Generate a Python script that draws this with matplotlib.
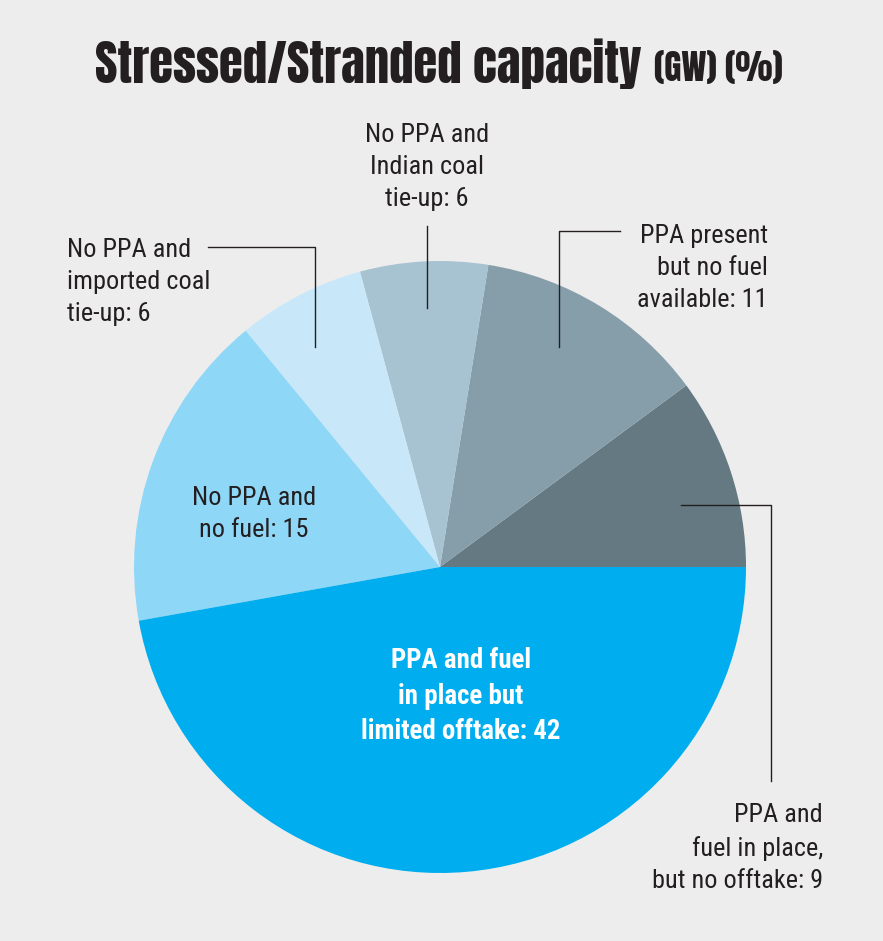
import matplotlib
matplotlib.use("Agg")
import matplotlib.pyplot as plt
from matplotlib import font_manager

# Stressed/stranded capacity shares, counter-clockwise from 3 o'clock
labels = [
    "PPA and\nfuel in place,\nbut no offtake: 9",
    "PPA present\nbut no fuel\navailable: 11",
    "No PPA and\nIndian coal\ntie-up: 6",
    "No PPA and\nimported coal\ntie-up: 6",
    "No PPA and\nno fuel: 15",
    "PPA and fuel\nin place but\nlimited offtake: 42",
]
values = [9, 11, 6, 6, 15, 42]
colors = ["#647981", "#869eaa", "#a7c3d1", "#c8e8fa", "#8fd7f7", "#00aeef"]

title_main = "Stressed/Stranded capacity"
title_unit = "(GW) (%)"

W, H = 883, 941
BG = "#eeeded"
INK = "#231f20"


def pick_font(names):
    for n in names:
        try:
            font_manager.findfont(font_manager.FontProperties(family=n),
                                  fallback_to_default=False)
            return n
        except ValueError:
            continue
    return "DejaVu Sans"


TITLE_FONT = pick_font(["Anton", "Oswald", "Roboto Condensed", "Liberation Sans"])
TITLE_WT = "normal" if TITLE_FONT == "Anton" else "bold"
LABEL_FONT = pick_font(["Roboto Condensed", "Archivo Narrow", "PT Sans Narrow",
                        "Barlow Condensed", "Liberation Sans"])


def py(y):
    # pixel row (from top) -> data y
    return H - y


fig = plt.figure(figsize=(W / 100, H / 100), dpi=100, facecolor=BG)
ax = fig.add_axes([0, 0, 1, 1])
ax.set_facecolor(BG)

ax.pie(values, colors=colors, startangle=0, counterclock=True,
       center=(440, py(567)), radius=306,
       wedgeprops=dict(linewidth=0))
ax.set_xlim(0, W)
ax.set_ylim(0, H)
ax.set_aspect("equal")
ax.axis("off")

renderer = fig.canvas.get_renderer()


def fit_width(t, target):
    w = t.get_window_extent(renderer).width
    t.set_fontsize(t.get_fontsize() * target / w)


# title
t1 = ax.text(95, py(83), title_main, ha="left", va="baseline",
             fontsize=32, fontweight=TITLE_WT, family=TITLE_FONT, color=INK)
fit_width(t1, 548)
t2 = ax.text(783, py(81), title_unit, ha="right", va="baseline",
             fontsize=20, fontweight=TITLE_WT, family=TITLE_FONT, color=INK)
fit_width(t2, 128)

# label placement: (x, y_center, ha, colour, weight)
place = [
    (823, 848, "right", INK, "normal"),
    (768, 268, "right", INK, "normal"),
    (427, 167, "center", INK, "normal"),
    (67, 282, "left", INK, "normal"),
    (254, 514, "center", INK, "normal"),
    (461, 696, "center", "white", "bold"),
]
texts = []
for lab, (x, y, ha, c, wt) in zip(labels, place):
    t = ax.text(x, py(y), lab, ha=ha, va="center", multialignment=ha,
                fontsize=18.5, color=c, fontweight=wt, family=LABEL_FONT,
                linespacing=1.42)
    texts.append(t)

# size the regular labels from "imported coal", the bold one from its widest line
fit_width(texts[3], 143)
for t in texts[:5]:
    t.set_fontsize(texts[3].get_fontsize())
fit_width(texts[5], 200)

# leader lines
leaders = [
    [(681, 505), (771, 505), (771, 781)],
    [(559, 347), (559, 231), (620, 231)],
    [(427, 308), (427, 226)],
    [(208, 247), (315, 247), (315, 347)],
]
for pts in leaders:
    xs = [p[0] for p in pts]
    ys = [py(p[1]) for p in pts]
    ax.plot(xs, ys, color=INK, linewidth=1.0)

fig.savefig("out.png", dpi=100, facecolor=BG)
